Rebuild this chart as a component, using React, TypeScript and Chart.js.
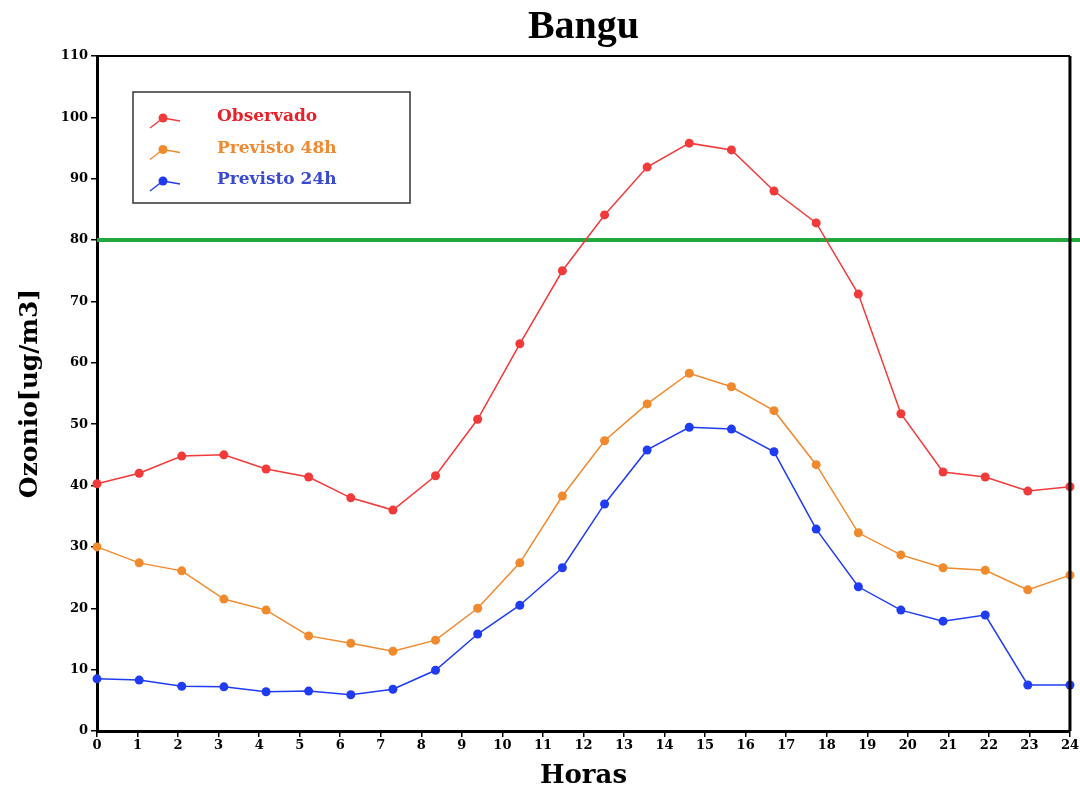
import React, { useEffect, useRef } from "react";
import { Chart, registerables } from "chart.js";

Chart.register(...registerables);

const hours = [0, 1.04, 2.09, 3.13, 4.17, 5.22, 6.26, 7.3, 8.35, 9.39, 10.43, 11.48, 12.52, 13.57, 14.61, 15.65, 16.7, 17.74, 18.78, 19.83, 20.87, 21.91, 22.96, 24];
const observado = [40.3, 42.0, 44.8, 45.0, 42.7, 41.4, 38.0, 36.0, 41.6, 50.8, 63.1, 75.0, 84.1, 91.9, 95.8, 94.7, 88.0, 82.8, 71.2, 51.7, 42.2, 41.4, 39.1, 39.8];
const previsto48 = [30.0, 27.4, 26.1, 21.5, 19.7, 15.5, 14.3, 13.0, 14.8, 20.0, 27.4, 38.3, 47.3, 53.3, 58.3, 56.1, 52.2, 43.4, 32.3, 28.7, 26.6, 26.2, 23.0, 25.4];
const previsto24 = [8.5, 8.3, 7.3, 7.2, 6.4, 6.5, 5.9, 6.8, 9.9, 15.8, 20.5, 26.6, 37.0, 45.8, 49.5, 49.2, 45.5, 32.9, 23.5, 19.7, 17.9, 18.9, 7.5, 7.5];
const seriesLabels = ["Observado", "Previsto 48h", "Previsto 24h"];
const seriesColors = ["#f23a3a", "#f08a2c", "#1f3cf2"];
const legendTextColors = ["#e8202a", "#f08a30", "#3a4ad0"];
const threshold = 80;
const title = "Bangu";
const xTitle = "Horas";
const yTitle = "Ozonio[ug/m3]";

const framePlugin = {
  id: "frame",
  beforeDatasetsDraw(chart: any) {
    const { ctx, chartArea, scales } = chart;
    ctx.save();
    // threshold line
    const y = scales.y.getPixelForValue(threshold);
    ctx.strokeStyle = "#22a83c";
    ctx.lineWidth = 4;
    ctx.beginPath();
    ctx.moveTo(chartArea.left, y);
    ctx.lineTo(chart.width, y);
    ctx.stroke();
    ctx.restore();
  },
  afterDraw(chart: any) {
    const { ctx, chartArea } = chart;
    ctx.save();
    ctx.strokeStyle = "#000";
    ctx.lineWidth = 2;
    ctx.beginPath();
    ctx.moveTo(chartArea.left, chartArea.top);
    ctx.lineTo(chartArea.right, chartArea.top);
    ctx.stroke();
    ctx.lineWidth = 3;
    ctx.beginPath();
    ctx.moveTo(chartArea.right, chartArea.top);
    ctx.lineTo(chartArea.right, chartArea.bottom);
    ctx.stroke();

    // title
    ctx.fillStyle = "#000";
    ctx.font = "bold 40px 'Liberation Serif'";
    ctx.textAlign = "center";
    ctx.textBaseline = "alphabetic";
    ctx.fillText(title, (chartArea.left + chartArea.right) / 2, 38);

    // legend box
    const bx = chartArea.left + 36;
    const by = chartArea.top + 36;
    const bw = 277;
    const bh = 111;
    ctx.fillStyle = "#fff";
    ctx.fillRect(bx, by, bw, bh);
    ctx.strokeStyle = "#333";
    ctx.lineWidth = 1.5;
    ctx.strokeRect(bx, by, bw, bh);
    ctx.font = "bold 17px 'DejaVu Serif'";
    ctx.textAlign = "left";
    ctx.textBaseline = "middle";
    chart.data.datasets.forEach((ds: any, i: number) => {
      if (i >= seriesLabels.length) return;
      const ry = by + 26 + i * 31.5;
      const mx = bx + 30;
      ctx.strokeStyle = ds.borderColor;
      ctx.lineWidth = 1.3;
      ctx.beginPath();
      ctx.moveTo(bx + 17, ry + 10);
      ctx.lineTo(mx, ry);
      ctx.lineTo(bx + 47, ry + 3);
      ctx.stroke();
      ctx.fillStyle = ds.backgroundColor;
      ctx.beginPath();
      ctx.arc(mx, ry, 4.5, 0, Math.PI * 2);
      ctx.fill();
      ctx.fillStyle = legendTextColors[i];
      ctx.fillText(ds.label, bx + 84, ry - 1);
    });
    ctx.restore();
  },
};

export default function App() {
  const ref = useRef<HTMLCanvasElement>(null);
  useEffect(() => {
    const series = [observado, previsto48, previsto24];
    const chart = new Chart(ref.current!, {
      type: "line",
      data: {
        datasets: series.map((vals, i) => ({
          label: seriesLabels[i],
          data: vals.map((v, j) => ({ x: hours[j], y: v })),
          borderColor: seriesColors[i],
          backgroundColor: seriesColors[i],
          borderWidth: 1.5,
          pointRadius: 4.5,
          pointBorderWidth: 0,
          pointBackgroundColor: seriesColors[i],
          tension: 0,
          clip: false as any,
        })),
      },
      options: {
        animation: false,
        responsive: false,
        maintainAspectRatio: false,
        layout: { padding: { top: 56, right: 8, left: 0, bottom: 0 } },
        plugins: { legend: { display: false }, title: { display: false }, tooltip: { enabled: false } },
        scales: {
          x: {
            type: "linear",
            min: 0,
            max: 24,
            afterFit(scale: any) {
              scale.height = 58;
            },
            ticks: {
              stepSize: 1,
              autoSkip: false,
              maxRotation: 0,
              padding: 1,
              color: "#000",
              font: { family: "'DejaVu Serif'", weight: "bold", size: 13 },
            },
            grid: { drawOnChartArea: false, tickLength: 6, color: "#000", lineWidth: 1.5 },
            border: { display: true, color: "#000", width: 3 },
            title: {
              display: true,
              text: xTitle,
              color: "#000",
              font: { family: "'DejaVu Serif'", weight: "bold", size: 26, lineHeight: 1 },
              padding: { top: 0, bottom: 0 },
            },
          },
          y: {
            type: "linear",
            min: 0,
            max: 110,
            afterFit(scale: any) {
              scale.width = 97;
            },
            ticks: {
              stepSize: 10,
              padding: 3,
              color: "#000",
              font: { family: "'DejaVu Serif'", weight: "bold", size: 13 },
            },
            grid: { drawOnChartArea: false, tickLength: 6, color: "#000", lineWidth: 1.5 },
            border: { display: true, color: "#000", width: 3 },
            title: {
              display: true,
              text: yTitle,
              color: "#000",
              font: { family: "'DejaVu Serif'", weight: "bold", size: 25, lineHeight: 1 },
              padding: { top: 18, bottom: 0 },
            },
          },
        },
      },
      plugins: [framePlugin],
    });
    return () => chart.destroy();
  }, []);
  return (
    <div style={{ position: "fixed", left: 0, top: 0, width: 1080, height: 789, background: "#fff" }}>
      <canvas ref={ref} width={1080} height={789} style={{ display: "block" }} />
    </div>
  );
}
